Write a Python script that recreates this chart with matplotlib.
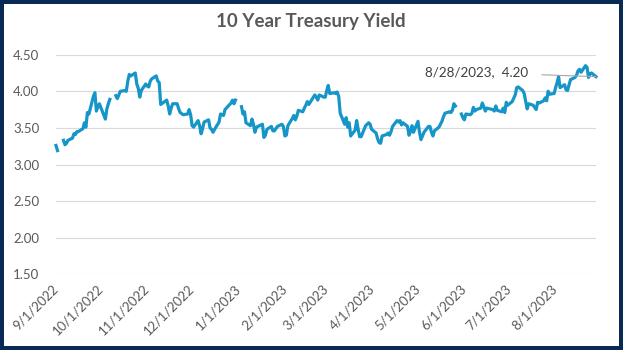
import numpy as np
import pandas as pd
import matplotlib
matplotlib.use("Agg")
import matplotlib.pyplot as plt
from matplotlib.patches import Rectangle

nan = np.nan

# ---- data (10-year Treasury yield, %) ----
sep22_days = [1, 2, 5, 6, 7, 8, 9, 12, 13, 14, 15, 16, 19, 20, 21, 22, 23, 26, 27, 28, 29, 30]
sep22_vals = [3.26, 3.19, nan, 3.33, 3.27, 3.29, 3.33, 3.36, 3.42, 3.41, 3.45, 3.45, 3.49, 3.57, 3.51,
              3.71, 3.69, 3.93, 3.98, 3.73, 3.79, 3.83]
oct22_days = [3, 4, 5, 6, 7, 10, 11, 12, 13, 14, 17, 18, 19, 20, 21, 24, 25, 26, 27, 28, 31]
oct22_vals = [3.67, 3.62, 3.76, 3.83, 3.89, nan, 3.94, 3.90, 3.95, 4.00, 4.01, 4.00, 4.14, 4.23, 4.21,
              4.25, 4.10, 4.04, 3.92, 4.01, 4.10]
nov22_days = [1, 2, 3, 4, 7, 8, 9, 10, 14, 15, 16, 17, 18, 21, 22, 23, 25, 28, 29, 30]
nov22_vals = [4.07, 4.06, 4.14, 4.17, 4.21, 4.14, 4.12, 3.82, 3.88, 3.80, 3.69, 3.77, 3.83, 3.83, 3.76,
              3.71, 3.68, 3.69, 3.75, 3.68]
dec22_days = [1, 2, 5, 6, 7, 8, 9, 12, 13, 14, 15, 16, 19, 20, 21, 22, 23, 27, 28, 29, 30]
dec22_vals = [3.53, 3.51, 3.60, 3.53, 3.42, 3.49, 3.58, 3.61, 3.50, 3.48, 3.44, 3.48, 3.58, 3.69, 3.68,
              3.67, 3.75, 3.84, 3.88, 3.83, 3.88]
jan23_days = [2, 3, 4, 5, 6, 9, 10, 11, 12, 13, 17, 18, 19, 20, 23, 24, 25, 26, 27, 30, 31]
jan23_vals = [nan, 3.79, 3.69, 3.72, 3.57, 3.53, 3.62, 3.55, 3.44, 3.51, 3.55, 3.37, 3.40, 3.48, 3.52,
              3.46, 3.46, 3.49, 3.52, 3.55, 3.52]
feb23_days = [1, 2, 3, 6, 7, 8, 9, 10, 13, 14, 15, 16, 17, 21, 22, 23, 24, 27, 28]
feb23_vals = [3.39, 3.40, 3.53, 3.63, 3.67, 3.61, 3.66, 3.74, 3.72, 3.77, 3.81, 3.86, 3.82, 3.95, 3.92,
              3.88, 3.95, 3.92, 3.92]
mar23_days = [1, 2, 3, 6, 7, 8, 9, 10, 13, 14, 15, 16, 17, 20, 21, 22, 23, 24, 27, 28, 29, 30, 31]
mar23_vals = [4.01, 4.08, 3.97, 3.98, 3.97, 3.99, 3.93, 3.70, 3.55, 3.64, 3.51, 3.57, 3.39, 3.47, 3.60,
              3.48, 3.38, 3.38, 3.53, 3.55, 3.57, 3.55, 3.48]
apr23_days = [3, 4, 5, 6, 7, 10, 11, 12, 13, 14, 17, 18, 19, 20, 21, 24, 25, 26, 27, 28]
apr23_vals = [3.43, 3.35, 3.30, 3.29, 3.39, 3.41, 3.43, 3.40, 3.45, 3.52, 3.60, 3.58, 3.60, 3.54, 3.57,
              3.52, 3.40, 3.45, 3.53, 3.44]
may23_days = [1, 2, 3, 4, 5, 8, 9, 10, 11, 12, 15, 16, 17, 18, 19, 22, 23, 24, 25, 26, 29, 30, 31]
may23_vals = [3.59, 3.44, 3.34, 3.39, 3.44, 3.52, 3.52, 3.44, 3.39, 3.46, 3.51, 3.55, 3.59, 3.65, 3.70,
              3.72, 3.71, 3.74, 3.83, 3.80, nan, 3.69, 3.64]
jun23_days = [1, 2, 5, 6, 7, 8, 9, 12, 13, 14, 15, 16, 20, 21, 22, 23, 26, 27, 28, 29, 30]
jun23_vals = [3.61, 3.69, 3.68, 3.70, 3.78, 3.73, 3.75, 3.77, 3.84, 3.79, 3.73, 3.77, 3.75, 3.73, 3.80,
              3.74, 3.72, 3.77, 3.71, 3.85, 3.81]
jul23_days = [3, 5, 6, 7, 10, 11, 12, 13, 14, 17, 18, 19, 20, 21, 24, 25, 26, 27, 28, 31]
jul23_vals = [3.86, 3.95, 4.05, 4.06, 4.01, 3.97, 3.86, 3.76, 3.83, 3.81, 3.78, 3.75, 3.85, 3.84, 3.87,
              3.91, 3.87, 4.00, 3.96, 3.97]
aug23_days = [1, 2, 3, 4, 7, 8, 9, 10, 11, 14, 15, 16, 17, 18, 21, 22, 23, 24, 25, 28]
aug23_vals = [4.05, 4.12, 4.20, 4.05, 4.09, 4.02, 4.01, 4.09, 4.16, 4.19, 4.22, 4.28, 4.30, 4.26, 4.35,
              4.33, 4.19, 4.24, 4.25, 4.20]

months = [(2022, 9, sep22_days, sep22_vals), (2022, 10, oct22_days, oct22_vals),
          (2022, 11, nov22_days, nov22_vals), (2022, 12, dec22_days, dec22_vals),
          (2023, 1, jan23_days, jan23_vals), (2023, 2, feb23_days, feb23_vals),
          (2023, 3, mar23_days, mar23_vals), (2023, 4, apr23_days, apr23_vals),
          (2023, 5, may23_days, may23_vals), (2023, 6, jun23_days, jun23_vals),
          (2023, 7, jul23_days, jul23_vals), (2023, 8, aug23_days, aug23_vals)]

tick_labels = ["9/1/2022", "10/1/2022", "11/1/2022", "12/1/2022", "1/1/2023", "2/1/2023",
               "3/1/2023", "4/1/2023", "5/1/2023", "6/1/2023", "7/1/2023", "8/1/2023"]
y_ticks = [1.50, 2.00, 2.50, 3.00, 3.50, 4.00, 4.50]
title = "10 Year Treasury Yield"

dates = []
values = []
for yr, mo, days, vals in months:
    for d, v in zip(days, vals):
        dates.append(pd.Timestamp(year=yr, month=mo, day=d))
        values.append(v)
dates = pd.DatetimeIndex(dates)
values = np.array(values, dtype=float)

# ---- figure ----
W, H = 623, 350
fig = plt.figure(figsize=(W / 100, H / 100), dpi=100)
fig.patch.set_facecolor("#082a55")
fig.add_artist(Rectangle((4 / W, 4 / H), (W - 8) / W, (H - 8) / H, transform=fig.transFigure,
                         facecolor="white", edgecolor="none", zorder=-1))

font = "Lato"
ax = fig.add_axes([56 / W, (H - 274.3) / H, 540 / W, (274.3 - 54.7) / H])
ax.set_facecolor("none")
ax.plot(dates, values, color="#1696C8", lw=2.3, solid_joinstyle="round", zorder=3, clip_on=False)

ax.set_xlim(dates[0], dates[-1])
ax.set_ylim(1.5, 4.5)
ax.set_yticks(y_ticks)
ax.set_yticklabels([f"{v:.2f}" for v in y_ticks], fontfamily=font, fontsize=9.5, color="#595959")
ax.grid(axis="y", color="#d9d9d9", lw=0.8)
ax.set_axisbelow(True)
for s in ax.spines.values():
    s.set_visible(False)
ax.tick_params(axis="both", length=0)
ax.tick_params(axis="y", pad=12)

xt = pd.to_datetime(tick_labels, format="%m/%d/%Y")
ax.set_xticks(xt)
ax.set_xticklabels(tick_labels, rotation=45, ha="right", va="center", rotation_mode="anchor",
                   fontfamily=font, fontsize=9.5, color="#595959")
ax.tick_params(axis="x", pad=9)

fig.text(311 / W, 1 - 22 / H, title, ha="center", va="center", fontfamily=font,
         fontweight="bold", fontsize=13.5, color="#595959")

last_d, last_v = dates[-1], values[-1]
ax.annotate(f"{last_d.month}/{last_d.day}/{last_d.year},  {last_v:.2f}", xy=(last_d, last_v),
            xytext=(-49, 3), textcoords="offset points", ha="right", va="center",
            fontfamily=font, fontsize=9.7, color="#404040",
            arrowprops=dict(arrowstyle="-", color="#a6a6a6", lw=0.8, shrinkA=8, shrinkB=0),
            zorder=5)

fig.savefig("out.png", dpi=100, facecolor=fig.get_facecolor())
